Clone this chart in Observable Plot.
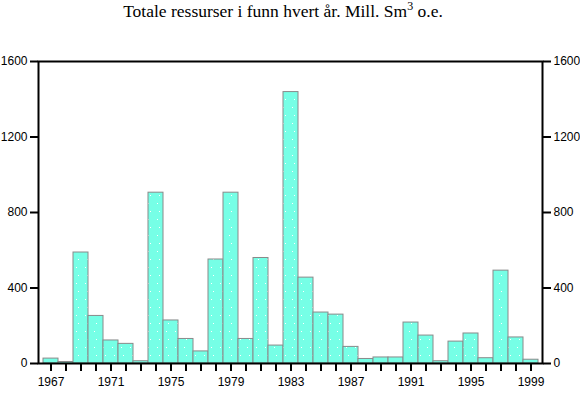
<!DOCTYPE html>
<html>
<head>
<meta charset="utf-8">
<script src="https://cdn.jsdelivr.net/npm/d3@7"></script>
<script src="https://cdn.jsdelivr.net/npm/@observablehq/plot@0.6"></script>
<style>
  html, body { margin: 0; padding: 0; background: #fff; }
  #wrap { width: 580px; height: 394px; position: relative; overflow: hidden; }
  #title { width: 580px; height: 40px; box-sizing: border-box; padding-top: 1px; padding-right: 14px;
           text-align: center; font-family: "Liberation Serif", "DejaVu Serif", serif; font-size: 17.5px;
           line-height: 21px; color: #000; }
  #title .sup { font-size: 12px; position: relative; top: -7px; line-height: 0; }
</style>
</head>
<body>
<div id="wrap">
  <div id="title">Totale ressurser i funn hvert år. Mill. Sm<span class="sup">3</span> o.e.</div>
  <div id="chart"></div>
</div>
<script>
const years = [1967,1968,1969,1970,1971,1972,1973,1974,1975,1976,1977,1978,1979,1980,1981,1982,1983,
               1984,1985,1986,1987,1988,1989,1990,1991,1992,1993,1994,1995,1996,1997,1998,1999];
const values = [26,8,588,252,122,104,12,905,228,130,64,551,905,130,559,95,1438,
                455,270,259,88,24,32,32,217,148,12,116,159,28,492,138,20];
const yTicks = [0,400,800,1200,1600];
const xLabelYears = [1967,1971,1975,1979,1983,1987,1991,1995,1999];

const data = years.map((y, i) => ({year: y, value: values[i]}));

const chart = Plot.plot({
  width: 580,
  height: 354,
  marginTop: 21,
  marginBottom: 31,
  marginLeft: 38,
  marginRight: 38,
  style: {fontFamily: "'Liberation Sans', Arial, sans-serif", fontSize: "12px", color: "#000", background: "#fff"},
  x: {type: "band", domain: years, padding: 0, axis: null},
  y: {domain: [0, 1600], axis: null},
  marks: [
    Plot.barY(data, {x: "year", y: "value", fill: "url(#dots)", stroke: "#8a8a8a", strokeWidth: 1, inset: 0}),
    Plot.frame({stroke: "#000", strokeWidth: 2}),
    Plot.axisX({ticks: years, tickSize: 8, tickPadding: 6, strokeWidth: 2, label: null,
                tickFormat: d => xLabelYears.includes(d) ? String(d) : "", fontSize: 12}),
    Plot.axisY({anchor: "left", ticks: yTicks, tickSize: 8, tickPadding: 3, strokeWidth: 2, fontSize: 12,
                label: null, tickFormat: d => String(d)}),
    Plot.axisY({anchor: "right", ticks: yTicks, tickSize: 8, tickPadding: 3, strokeWidth: 2, fontSize: 12,
                label: null, tickFormat: d => String(d)})
  ]
});

// sparse stipple pattern for the bars
const ns = "http://www.w3.org/2000/svg";
const defs = document.createElementNS(ns, "defs");
const pat = document.createElementNS(ns, "pattern");
pat.setAttribute("id", "dots");
pat.setAttribute("patternUnits", "userSpaceOnUse");
pat.setAttribute("width", "9");
pat.setAttribute("height", "16");
const bg = document.createElementNS(ns, "rect");
bg.setAttribute("width", "9"); bg.setAttribute("height", "16"); bg.setAttribute("fill", "#76ffe6");
pat.appendChild(bg);
[[4,3],[6,11]].forEach(([x, y]) => {
  const d = document.createElementNS(ns, "rect");
  d.setAttribute("x", x); d.setAttribute("y", y); d.setAttribute("width", "1"); d.setAttribute("height", "1");
  d.setAttribute("fill", "#ffffff");
  pat.appendChild(d);
});
defs.appendChild(pat);
chart.insertBefore(defs, chart.firstChild);

document.getElementById("chart").appendChild(chart);
</script>
</body>
</html>
